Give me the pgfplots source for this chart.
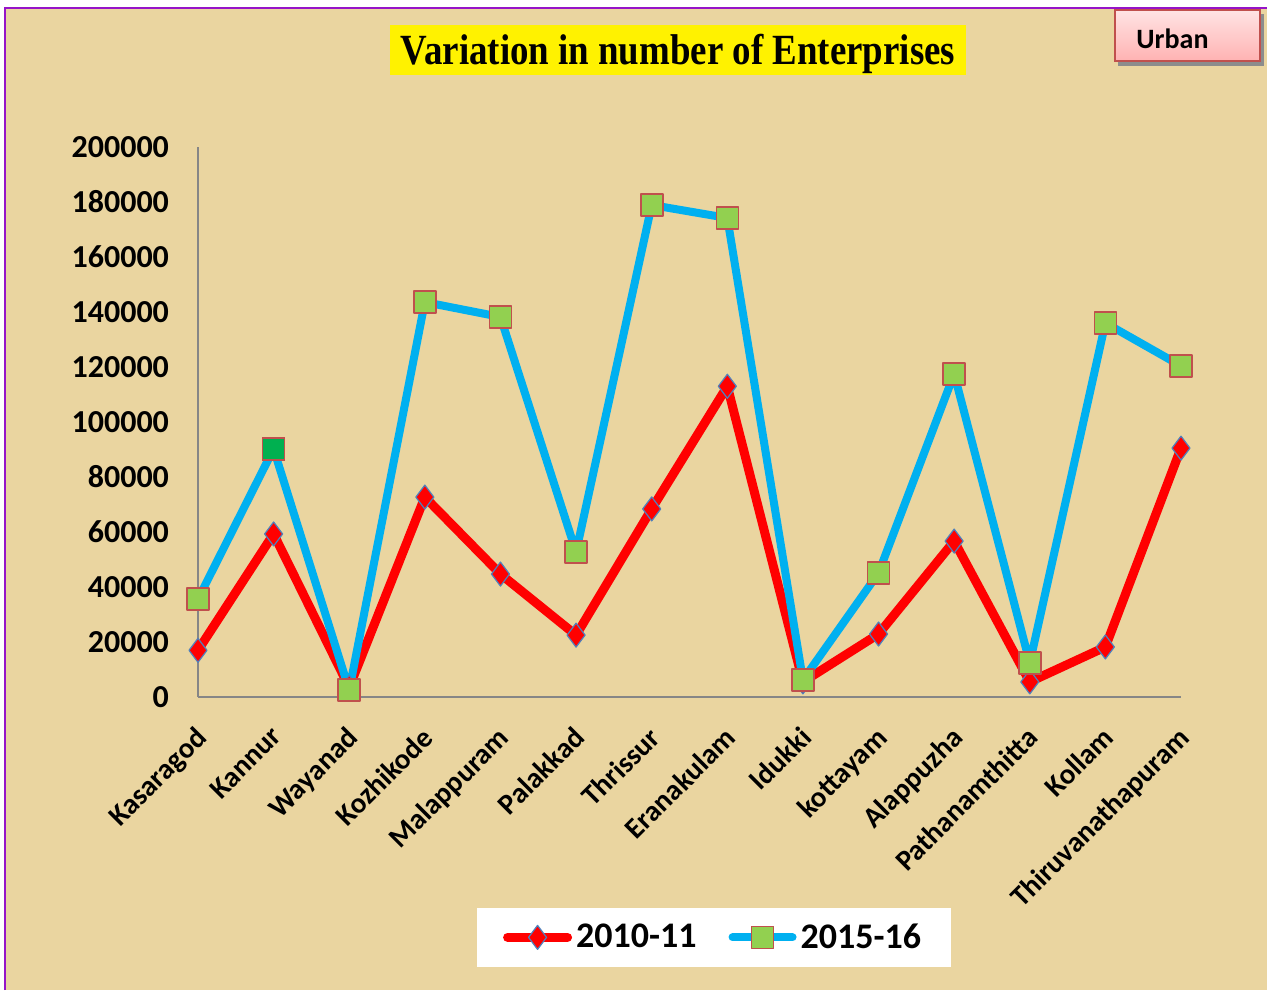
\documentclass[border=0pt]{standalone}
\usepackage{pgfplots}
\pgfplotsset{compat=1.18}
\usepackage{fontspec}
\setmainfont{Carlito}
\newfontfamily\titlefont{Liberation Serif}

\definecolor{papyrus}{RGB}{234,213,160}
\definecolor{frame}{RGB}{150,20,200}
\definecolor{rline}{RGB}{255,0,0}
\definecolor{bline}{RGB}{0,176,240}
\definecolor{sqfill}{RGB}{146,208,80}
\definecolor{sqedge}{RGB}{192,80,77}
\definecolor{dmedge}{RGB}{79,129,189}
\definecolor{darkgr}{RGB}{0,176,80}
\definecolor{axgray}{RGB}{134,134,134}
\definecolor{pinktop}{RGB}{255,228,228}
\definecolor{pinkbot}{RGB}{255,178,178}

\begin{document}
\begin{tikzpicture}[x=1pt,y=1pt]
\useasboundingbox (0,0) rectangle (633.5,496);
\fill[white] (0,0) rectangle (633.5,496);
\fill[papyrus] (2.5,1) rectangle (633.5,492);
\draw[frame,line width=1pt] (2.5,1) -- (2.5,492) -- (633.5,492);

% title
\fill[yellow] (195,458.5) rectangle (483,483.5);
\node[inner sep=0pt] at (339,469) {\titlefont\bfseries\fontsize{20.5}{20.5}\selectfont\scalebox{0.9}[1.05]{Variation in number of Enterprises}};

% urban box
\fill[black!45] (559,463) rectangle (632,489);
\shade[top color=pinktop,bottom color=pinkbot,draw=sqedge,line width=1pt]
  (557.5,465.5) rectangle (630,491);
\node[anchor=west,inner sep=0pt] at (568,476.5) {\bfseries\fontsize{14}{14}\selectfont Urban};

\begin{axis}[
    at={(99pt,147.5pt)}, anchor=south west,
    scale only axis,
    width=491.5pt, height=275pt,
    xmin=0, xmax=13,
    ymin=0, ymax=200000,
    axis x line*=bottom, axis y line*=left,
    axis line style={axgray,line width=1pt,-},
    xtick={0,...,13},
    xticklabels={Kasaragod,Kannur,Wayanad,Kozhikode,Malappuram,Palakkad,Thrissur,Eranakulam,Idukki,kottayam,Alappuzha,Pathanamthitta,Kollam,Thiruvanathapuram},
    xticklabel style={rotate=45,anchor=north east,font=\bfseries\fontsize{14.5}{14.5}\selectfont,xshift=-8pt,yshift=-5pt},
    ytick={0,20000,40000,60000,80000,100000,120000,140000,160000,180000,200000},
    yticklabels={0,20000,40000,60000,80000,100000,120000,140000,160000,180000,200000},
    scaled y ticks=false,
    yticklabel style={font=\bfseries\fontsize{16}{16}\selectfont,xshift=-11pt},
    major tick style={draw=none},
    clip=false,
    legend style={at={(0.525,-0.437)},anchor=center,legend columns=2,
      draw=none,fill=white,inner xsep=13pt,inner ysep=6pt,
      font=\bfseries\fontsize{18}{18}\selectfont,
      /tikz/every even column/.append style={column sep=14pt}},
    legend image code/.code={\draw[mark repeat=2,mark phase=2,#1] plot coordinates {(0pt,0pt) (15pt,0pt) (30pt,0pt)};},
]
\addplot[rline,line width=4.5pt,line cap=round,line join=round,
  mark=diamond*,mark size=6pt,mark options={fill=rline,draw=dmedge,line width=0.6pt}]
  coordinates {(0,17000) (1,59300) (2,3500) (3,72700) (4,44700) (5,22500) (6,68400) (7,113000) (8,5500) (9,22900) (10,56700) (11,5500) (12,18200) (13,90500)};
\addlegendentry{2010-11}
\addplot[bline,line width=4pt,line cap=round,line join=round,
  mark=square*,mark size=5.5pt,mark options={fill=sqfill,draw=sqedge,line width=0.8pt}]
  coordinates {(0,35600) (1,90200) (2,2500) (3,143600) (4,138200) (5,52700) (6,178900) (7,174200) (8,6200) (9,45100) (10,117500) (11,12400) (12,136000) (13,120400)};
\addlegendentry{2015-16}
\addplot[only marks,mark=square*,mark size=5.5pt,mark options={fill=darkgr,draw=sqedge,line width=0.8pt},forget plot]
  coordinates {(1,90200)};
\end{axis}
\end{tikzpicture}
\end{document}
